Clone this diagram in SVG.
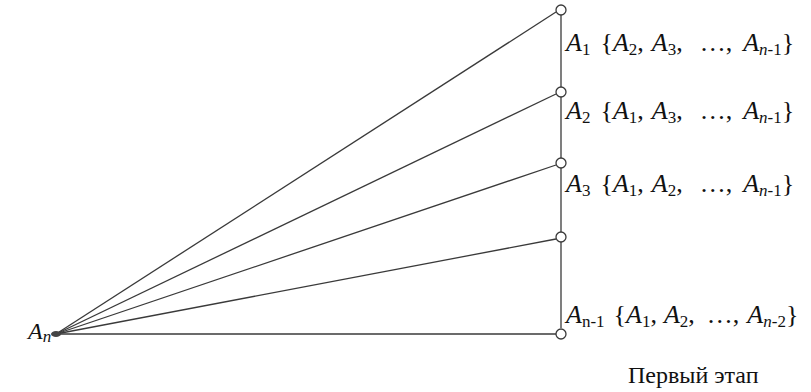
<svg xmlns="http://www.w3.org/2000/svg" width="811" height="392" viewBox="0 0 811 392">
<style>
.ln{stroke:#3a3a3a;stroke-width:1.3;fill:none}
.nd{stroke:#3a3a3a;stroke-width:1.3;fill:#fff}
.t{font-family:"Liberation Serif",serif;font-size:24px;fill:#111}
.r{font-size:26px}
.i{font-style:italic}
.s{font-size:17px}
</style>
<rect width="811" height="392" fill="#fff"/>
<g id="connectors">
<line class="ln" x1="56" y1="334" x2="556" y2="12"/>
<line class="ln" x1="56" y1="334" x2="556" y2="94"/>
<line class="ln" x1="56" y1="334" x2="556" y2="165"/>
<line class="ln" x1="56" y1="334" x2="556" y2="239"/>
<line class="ln" x1="56" y1="334" x2="556" y2="334"/>
<line class="ln" x1="561" y1="15" x2="561" y2="328"/>
</g>
<g id="node-An">
<ellipse cx="56" cy="334" rx="5" ry="3" fill="#444"/>
<text class="t" x="28" y="339"><tspan class="i">A</tspan><tspan class="i s" dy="3">n</tspan></text>
</g>
<g id="node-A1">
<circle class="nd" cx="561" cy="10" r="5"/>
<text class="t r" x="566" y="51"><tspan class="i">A</tspan><tspan class="s" dy="4">1</tspan><tspan dy="-4" dx="10">{</tspan><tspan class="i">A</tspan><tspan class="s" dy="4">2</tspan><tspan dy="-4">,</tspan><tspan class="i" dx="8">A</tspan><tspan class="s" dy="4">3</tspan><tspan dy="-4">,</tspan><tspan dx="17">…,</tspan><tspan class="i" dx="11">A</tspan><tspan class="s i" dy="4">n</tspan><tspan class="s">-1</tspan><tspan dy="-4">}</tspan></text>
</g>
<g id="node-A2">
<circle class="nd" cx="561" cy="92" r="5"/>
<text class="t r" x="566" y="119"><tspan class="i">A</tspan><tspan class="s" dy="4">2</tspan><tspan dy="-4" dx="10">{</tspan><tspan class="i">A</tspan><tspan class="s" dy="4">1</tspan><tspan dy="-4">,</tspan><tspan class="i" dx="8">A</tspan><tspan class="s" dy="4">3</tspan><tspan dy="-4">,</tspan><tspan dx="17">…,</tspan><tspan class="i" dx="11">A</tspan><tspan class="s i" dy="4">n</tspan><tspan class="s">-1</tspan><tspan dy="-4">}</tspan></text>
</g>
<g id="node-A3">
<circle class="nd" cx="561" cy="163" r="5"/>
<text class="t r" x="566" y="192"><tspan class="i">A</tspan><tspan class="s" dy="4">3</tspan><tspan dy="-4" dx="10">{</tspan><tspan class="i">A</tspan><tspan class="s" dy="4">1</tspan><tspan dy="-4">,</tspan><tspan class="i" dx="8">A</tspan><tspan class="s" dy="4">2</tspan><tspan dy="-4">,</tspan><tspan dx="17">…,</tspan><tspan class="i" dx="11">A</tspan><tspan class="s i" dy="4">n</tspan><tspan class="s">-1</tspan><tspan dy="-4">}</tspan></text>
</g>
<g id="node-A4">
<circle class="nd" cx="561" cy="237" r="5"/>
</g>
<g id="node-An-1">
<circle class="nd" cx="561" cy="334" r="5"/>
<text class="t r" x="566" y="323"><tspan class="i">A</tspan><tspan class="s" dy="4">n-1</tspan><tspan dy="-4" dx="9">{</tspan><tspan class="i">A</tspan><tspan class="s" dy="4">1</tspan><tspan dy="-4">,</tspan><tspan class="i" dx="7">A</tspan><tspan class="s" dy="4">2</tspan><tspan dy="-4">,</tspan><tspan dx="12">…,</tspan><tspan class="i" dx="8">A</tspan><tspan class="s i" dy="4">n</tspan><tspan class="s">-2</tspan><tspan dy="-4">}</tspan></text>
</g>
<text class="t" x="628" y="383">Первый этап</text>
</svg>
